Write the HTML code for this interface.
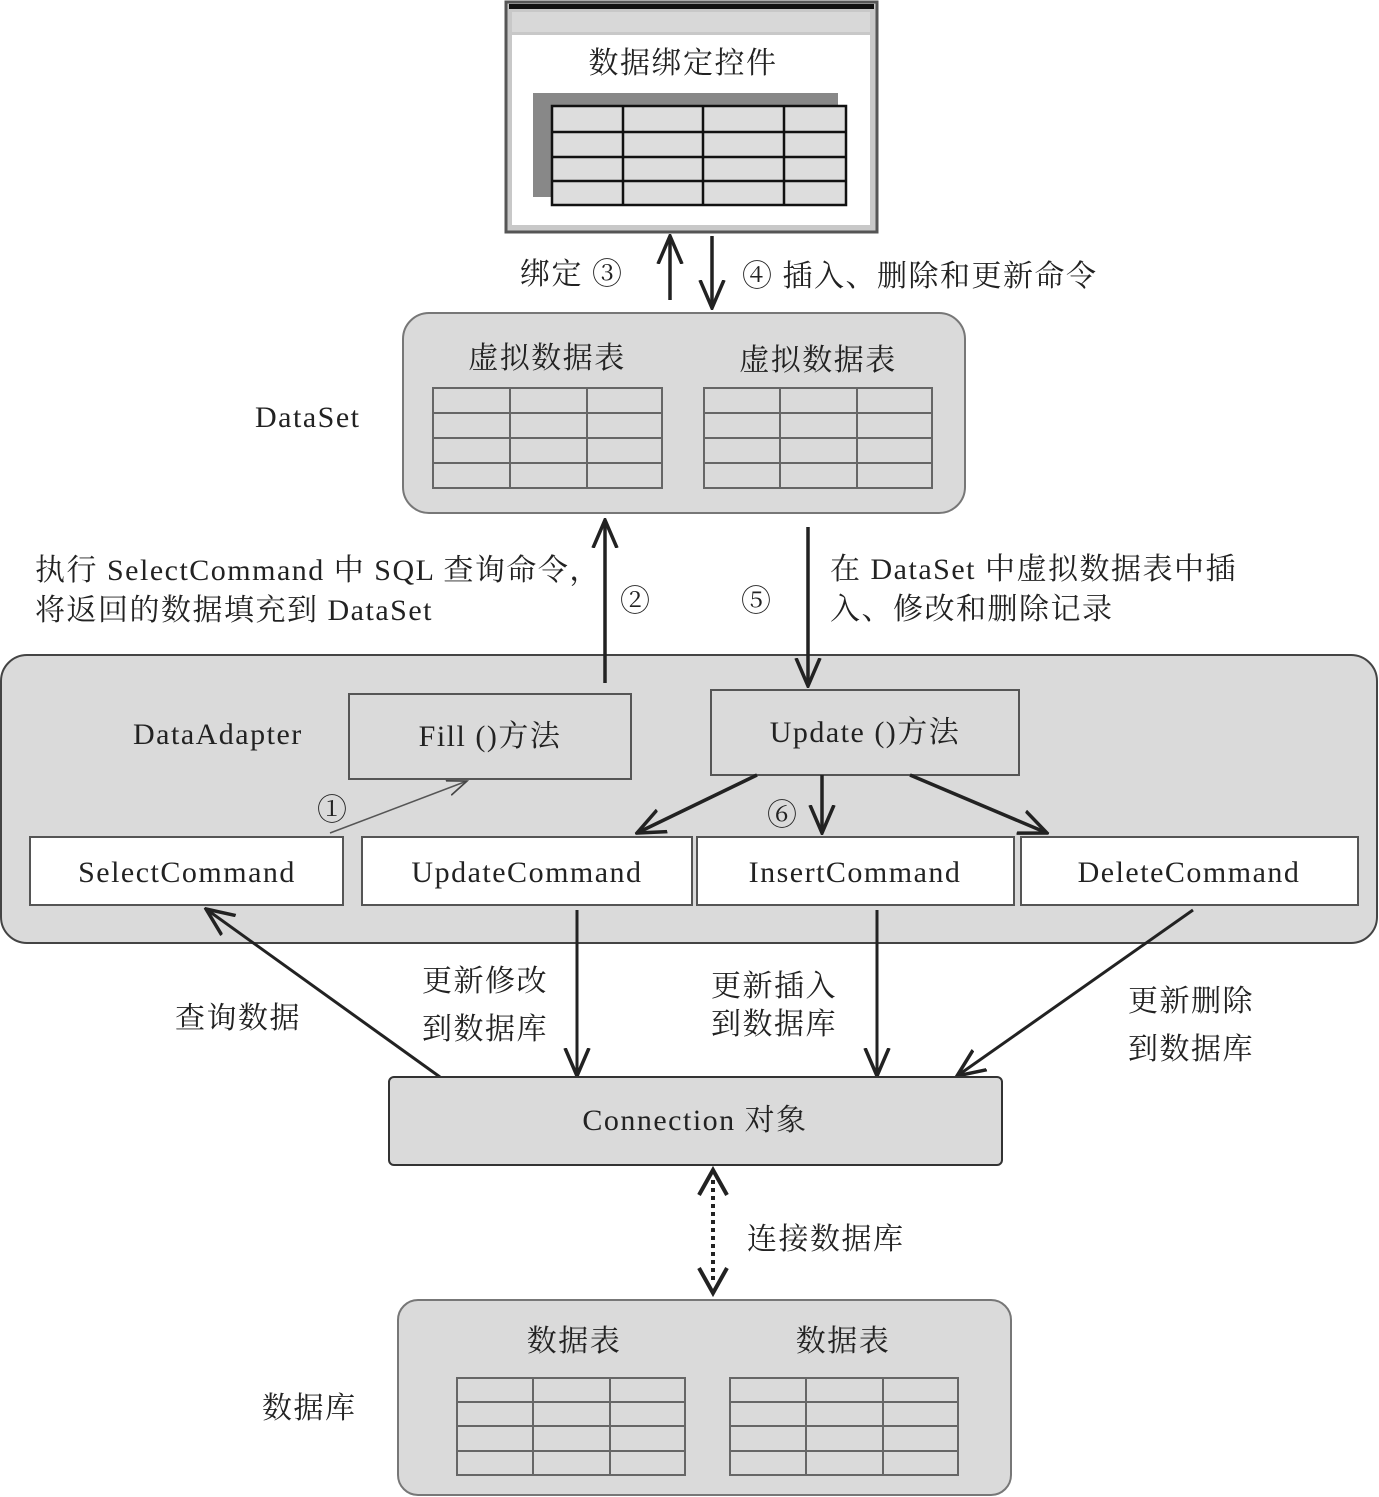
<!DOCTYPE html>
<html><head><meta charset="utf-8"><style>
html,body{margin:0;padding:0;background:#fff;}
svg{display:block;}
text{font-family:"Liberation Serif","Noto Serif CJK SC",serif;font-size:30px;fill:#222;letter-spacing:1.5px;}
</style></head><body>
<svg width="1379" height="1497" viewBox="0 0 1379 1497" xmlns="http://www.w3.org/2000/svg">
<defs>
<marker id="ahb" viewBox="0 0 30 30" refX="28" refY="15" markerWidth="30" markerHeight="30" markerUnits="userSpaceOnUse" orient="auto">
<path d="M0,3 L28,15 L0,27" fill="none" stroke="#222" stroke-width="3.5"/>
</marker>
<marker id="aht" viewBox="0 0 20 20" refX="18" refY="10" markerWidth="22" markerHeight="22" markerUnits="userSpaceOnUse" orient="auto">
<path d="M0,3 L18,10 L0,17" fill="none" stroke="#444" stroke-width="1.5"/>
</marker>
</defs>

<!-- top window -->
<rect x="506" y="2" width="371" height="230" fill="#c8c8c8" stroke="#555" stroke-width="3"/>
<rect x="509" y="4" width="365" height="5" fill="#111"/>
<rect x="512" y="12" width="358" height="20" fill="#d8d8d8"/>
<rect x="512" y="35" width="358" height="190" fill="#fff"/>
<text x="683" y="73" text-anchor="middle" font-size="31">数据绑定控件</text>
<rect x="533" y="93" width="305" height="104" fill="#888"/>
<rect x="552" y="106" width="294" height="99" fill="#ddd" stroke="#111" stroke-width="2.5"/>
<g stroke="#111" stroke-width="2.5">
<line x1="623" y1="106" x2="623" y2="205"/><line x1="703" y1="106" x2="703" y2="205"/><line x1="784" y1="106" x2="784" y2="205"/>
<line x1="552" y1="132" x2="846" y2="132"/><line x1="552" y1="157" x2="846" y2="157"/><line x1="552" y1="181" x2="846" y2="181"/>
</g>

<line x1="670" y1="300" x2="670" y2="236" stroke="#222" stroke-width="3.5" marker-end="url(#ahb)"/>
<line x1="712" y1="236" x2="712" y2="308" stroke="#222" stroke-width="3.5" marker-end="url(#ahb)"/>
<text x="520" y="284">绑定 ③</text>
<text x="742" y="286">④ 插入、删除和更新命令</text>

<!-- DataSet -->
<rect x="403" y="313" width="562" height="200" rx="26" fill="#dadada" stroke="#777" stroke-width="2"/>
<text x="255" y="427">DataSet</text>
<text x="547" y="368" text-anchor="middle" font-size="31">虚拟数据表</text>
<text x="818" y="370" text-anchor="middle" font-size="31">虚拟数据表</text>
<g fill="none" stroke="#666" stroke-width="2">
<rect x="433" y="388" width="229" height="100"/>
<line x1="510" y1="388" x2="510" y2="488"/><line x1="587" y1="388" x2="587" y2="488"/>
<line x1="433" y1="413" x2="662" y2="413"/><line x1="433" y1="438" x2="662" y2="438"/><line x1="433" y1="463" x2="662" y2="463"/>
<rect x="704" y="388" width="228" height="100"/>
<line x1="780" y1="388" x2="780" y2="488"/><line x1="857" y1="388" x2="857" y2="488"/>
<line x1="704" y1="413" x2="932" y2="413"/><line x1="704" y1="438" x2="932" y2="438"/><line x1="704" y1="463" x2="932" y2="463"/>
</g>

<text x="620" y="611">②</text>
<text x="741" y="611">⑤</text>
<text x="35" y="580">执行 SelectCommand 中 SQL 查询命令，</text>
<text x="35" y="620">将返回的数据填充到 DataSet</text>
<text x="830" y="579">在 DataSet 中虚拟数据表中插</text>
<text x="830" y="619">入、修改和删除记录</text>

<!-- DataAdapter -->
<rect x="1" y="655" width="1376" height="288" rx="26" fill="#dadada" stroke="#444" stroke-width="2"/>
<line x1="605" y1="683" x2="605" y2="520" stroke="#222" stroke-width="3.5" marker-end="url(#ahb)"/>
<line x1="808" y1="527" x2="808" y2="686" stroke="#222" stroke-width="3.5" marker-end="url(#ahb)"/>
<text x="133" y="744">DataAdapter</text>
<rect x="349" y="694" width="282" height="85" fill="#dadada" stroke="#555" stroke-width="2"/>
<text x="490" y="746" text-anchor="middle">Fill ()方法</text>
<rect x="711" y="690" width="308" height="85" fill="#dadada" stroke="#555" stroke-width="2"/>
<text x="865" y="742" text-anchor="middle">Update ()方法</text>
<g fill="#fff" stroke="#555" stroke-width="2">
<rect x="30" y="837" width="313" height="68"/>
<rect x="362" y="837" width="330" height="68"/>
<rect x="697" y="837" width="317" height="68"/>
<rect x="1021" y="837" width="337" height="68"/>
</g>
<text x="187" y="882" text-anchor="middle">SelectCommand</text>
<text x="527" y="882" text-anchor="middle">UpdateCommand</text>
<text x="855" y="882" text-anchor="middle">InsertCommand</text>
<text x="1189" y="882" text-anchor="middle">DeleteCommand</text>
<line x1="330" y1="833" x2="467" y2="781" stroke="#555" stroke-width="1.5" marker-end="url(#aht)"/>
<text x="317" y="820" fill="#555">①</text>
<g stroke="#222" stroke-width="3.5">
<line x1="757" y1="775" x2="637" y2="833" marker-end="url(#ahb)"/>
<line x1="822" y1="775" x2="822" y2="833" marker-end="url(#ahb)"/>
<line x1="910" y1="775" x2="1047" y2="833" marker-end="url(#ahb)"/>
</g>
<text x="767" y="825">⑥</text>

<g stroke="#222" stroke-width="3">
<line x1="577" y1="910" x2="577" y2="1076" marker-end="url(#ahb)"/>
<line x1="877" y1="910" x2="877" y2="1076" marker-end="url(#ahb)"/>
<line x1="1193" y1="910" x2="957" y2="1076" marker-end="url(#ahb)"/>
<line x1="440" y1="1077" x2="206" y2="909" marker-end="url(#ahb)"/>
</g>
<text x="175" y="1028">查询数据</text>
<text x="422" y="991">更新修改</text>
<text x="422" y="1039">到数据库</text>
<text x="711" y="996">更新插入</text>
<text x="711" y="1034">到数据库</text>
<text x="1128" y="1011">更新删除</text>
<text x="1128" y="1059">到数据库</text>

<rect x="389" y="1077" width="613" height="88" rx="5" fill="#dadada" stroke="#333" stroke-width="2"/>
<text x="695" y="1130" text-anchor="middle">Connection 对象</text>

<line x1="713" y1="1180" x2="713" y2="1282" stroke="#222" stroke-width="4" stroke-dasharray="4,4"/>
<path d="M699,1195 L713,1170 L727,1195" fill="none" stroke="#222" stroke-width="4"/>
<path d="M699,1268 L713,1293 L727,1268" fill="none" stroke="#222" stroke-width="4"/>
<text x="747" y="1249">连接数据库</text>

<rect x="398" y="1300" width="613" height="195" rx="20" fill="#dadada" stroke="#777" stroke-width="2"/>
<text x="262" y="1418">数据库</text>
<text x="574" y="1351" text-anchor="middle" font-size="31">数据表</text>
<text x="843" y="1351" text-anchor="middle" font-size="31">数据表</text>
<g fill="none" stroke="#666" stroke-width="2">
<rect x="457" y="1378" width="228" height="97"/>
<line x1="533" y1="1378" x2="533" y2="1475"/><line x1="610" y1="1378" x2="610" y2="1475"/>
<line x1="457" y1="1402" x2="685" y2="1402"/><line x1="457" y1="1426" x2="685" y2="1426"/><line x1="457" y1="1451" x2="685" y2="1451"/>
<rect x="730" y="1378" width="228" height="97"/>
<line x1="806" y1="1378" x2="806" y2="1475"/><line x1="883" y1="1378" x2="883" y2="1475"/>
<line x1="730" y1="1402" x2="958" y2="1402"/><line x1="730" y1="1426" x2="958" y2="1426"/><line x1="730" y1="1451" x2="958" y2="1451"/>
</g>
</svg>
</body></html>
